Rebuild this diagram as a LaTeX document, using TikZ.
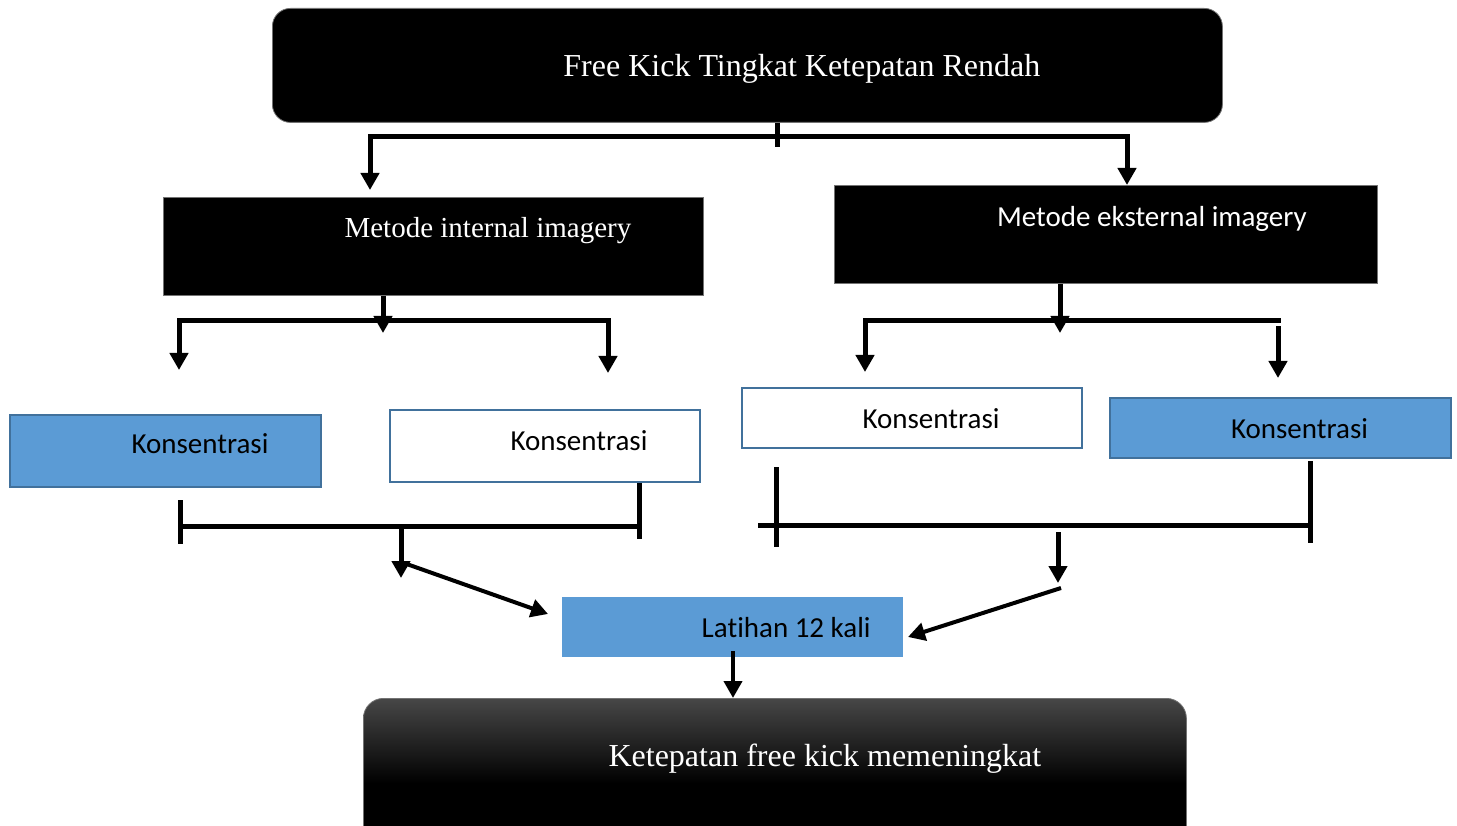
\documentclass[tikz,border=0pt]{standalone}
\usepackage{fontspec}
\setmainfont{Liberation Serif}
\newfontfamily\calib[Ligatures=NoCommon]{Carlito}
\usetikzlibrary{arrows.meta}
\definecolor{blu}{HTML}{5B9BD5}
\definecolor{bluedge}{HTML}{41719C}
\definecolor{graytop}{HTML}{474747}
\begin{document}
\begin{tikzpicture}[x=1pt,y=-1pt,
  blackbox/.style={fill=black, draw=black!55, line width=0.8pt, inner sep=0pt, anchor=north west},
  bluebox/.style={fill=blu, draw=bluedge, line width=2pt, inner sep=0pt, anchor=north west},
  whitebox/.style={fill=white, draw=bluedge, line width=2pt, inner sep=0pt, anchor=north west},
  serift/.style={font=\fontsize{32}{36}\selectfont, text=white, inner sep=0pt},
  seriftm/.style={font=\fontsize{29}{33}\selectfont, text=white, inner sep=0pt},
  calt/.style={font=\calib\fontsize{29}{33}\selectfont, inner sep=0pt},
  ln/.style={line width=5pt, draw=black},
  arr/.style={line width=5pt, draw=black, -{Triangle[width=18pt,length=17pt]}},
  arrthin/.style={line width=4pt, draw=black, -{Triangle[width=18pt,length=17pt]}}
]
\useasboundingbox (0,0) rectangle (1457,826);

% boxes
\node[blackbox, rounded corners=18pt, minimum width=950pt, minimum height=114pt,
  label={[serift, shift={(54.5,3)}]center:Free Kick Tingkat Ketepatan Rendah}] (top) at (272,8) {};
\node[blackbox, minimum width=540pt, minimum height=98pt,
  label={[seriftm, shift={(54.5,-16)}]center:Metode internal imagery}] (mi) at (163,197) {};
\node[blackbox, minimum width=543pt, minimum height=98pt,
  label={[calt, text=white, shift={(46,-15)}]center:Metode eksternal imagery}] (me) at (834,185) {};

\node[bluebox, minimum width=311pt, minimum height=72pt,
  label={[calt, shift={(34.5,-7)}]center:Konsentrasi}] (k1) at (9,414) {};
\node[whitebox, minimum width=310pt, minimum height=72pt,
  label={[calt, shift={(34,-5)}]center:Konsentrasi}] (k2) at (389,409) {};
\node[whitebox, minimum width=340pt, minimum height=60pt,
  label={[calt, shift={(19,1)}]center:Konsentrasi}] (k3) at (741,387) {};
\node[bluebox, minimum width=341pt, minimum height=60pt,
  label={[calt, shift={(19,1)}]center:Konsentrasi}] (k4) at (1109,397) {};

\node[fill=blu, draw=none, inner sep=0pt, anchor=north west, minimum width=341pt, minimum height=60pt,
  label={[calt, shift={(53.5,0)}]center:Latihan 12 kali}] (lat) at (562,597) {};

\node[draw=black!55, line width=0.8pt, rounded corners=20pt, inner sep=0pt, anchor=north west,
  minimum width=823pt, minimum height=170pt,
  top color=graytop, bottom color=black, middle color=black, shading angle=0,
  label={[serift, shift={(50,-25)}]center:Ketepatan free kick memeningkat}] (res) at (363,698) {};

% junctions
\coordinate (j0) at (777,137);
\coordinate (j1) at (383,321);
\coordinate (j2) at (1060,321);

% top split
\draw[ln] (top.south -| j0) -- (777,147);
\draw[arr] (j0) -| (370,190);
\draw[arr] (j0) -| (1127,185);

% internal split
\draw[arr] (j1) -| (179,370);
\draw[arr] (j1) -| (608,373);
\draw[arr] (mi.south -| j1) -- (383,333);

% eksternal split
\draw[arr] (j2) -| (865,372);
\draw[ln] (j2) -- (1281,321);
\draw[arr] (1278,326) -- (1278,378);
\draw[arr] (me.south -| j2) -- (1060,333);

% left bracket
\coordinate (b1) at (401,526);
\draw[ln] (180,500) -- (180,544);
\draw[ln] (180,526) -- (639,526);
\draw[ln] (k2.south -| 639,0) -- (639,539);
\draw[arr] (b1) -- (401,578);
\draw[arrthin] (401,562) -- ([xshift=-14pt]lat.west |- 0,614);

% right bracket
\draw[ln] (776,467) -- (776,547);
\draw[ln] (758,525) -- (1310,525);
\draw[ln] (1310,461) -- (1310,543);
\draw[arr] (1058,532) -- (1058,583);
\draw[arrthin] (1061,588) -- (908,637);

% to result
\draw[arrthin] (733,651) -- (res.north -| 733,0);
\end{tikzpicture}
\end{document}
